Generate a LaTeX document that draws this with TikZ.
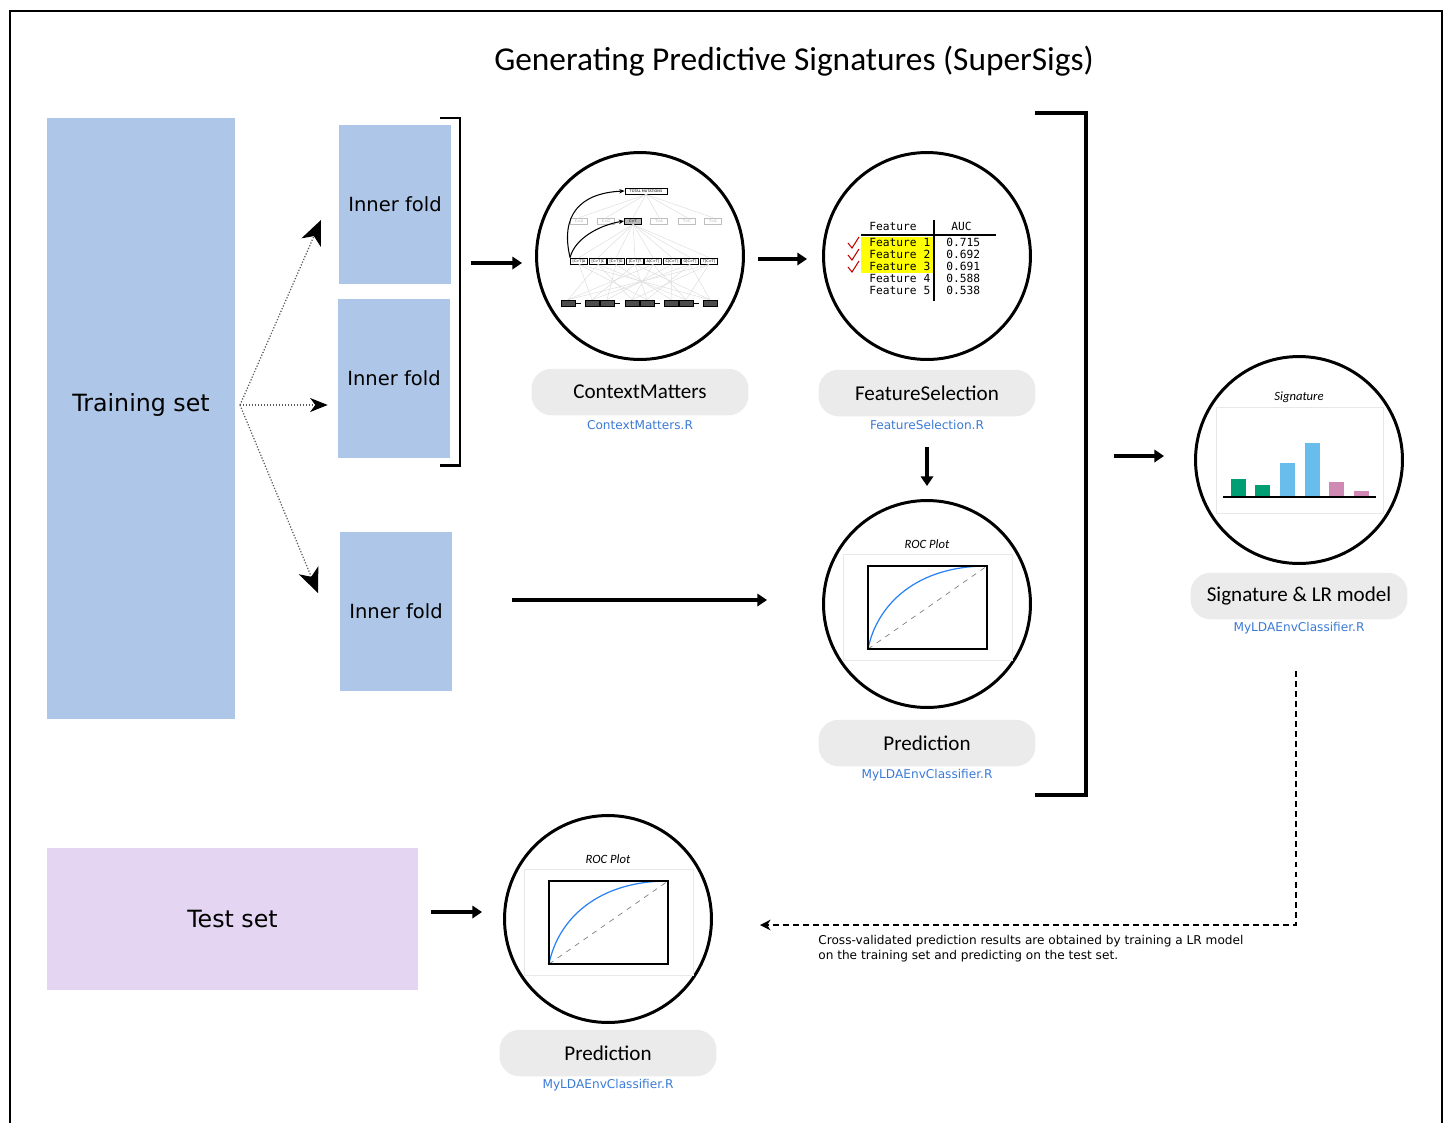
\documentclass[tikz,border=0pt]{standalone}
\usepackage{fontspec}
\setmainfont{DejaVu Sans}
\setmonofont{DejaVu Sans Mono}
\newfontfamily\calib{Carlito}
\usetikzlibrary{arrows.meta}

\definecolor{foldblue}{RGB}{174,199,232}
\definecolor{testlilac}{RGB}{228,214,242}
\definecolor{pillgray}{RGB}{235,235,235}
\definecolor{filelink}{RGB}{58,122,214}
\definecolor{hiyellow}{RGB}{255,255,0}
\definecolor{tickred}{RGB}{192,0,0}
\definecolor{rocblue}{RGB}{40,130,245}
\definecolor{framegray}{RGB}{232,232,232}
\definecolor{sigg}{RGB}{0,158,115}
\definecolor{sigb}{RGB}{104,189,236}
\definecolor{sigp}{RGB}{208,137,178}

\begin{document}
\begin{tikzpicture}[x=0.02cm,y=-0.02cm,
  setbox/.style={fill=#1,inner sep=0},
  circ/.style={circle,draw,line width=1.7pt,minimum size=4.14cm,inner sep=0},
  pill/.style={fill=pillgray,rounded corners=0.4cm,minimum width=4.34cm,
    minimum height=0.93cm,font=\calib\fontsize{12}{14}\selectfont},
  rfile/.style={text=filelink,font=\fontsize{6.9}{8}\selectfont,inner sep=0},
  bigarrow/.style={line width=2.2pt,-{Triangle[length=5.5pt,width=7pt]}},
  split/.style={gray!70!black,densely dotted,line width=0.7pt,
    -{Stealth[length=14pt,width=12pt,inset=4pt,color=black]}},
  cvarrow/.style={line width=0.65pt,dash pattern=on 3.4pt off 2.3pt,
    -{Stealth[length=6pt,width=6pt]}},
  smallbox/.style={draw,fill=white,inner sep=0,minimum height=0.12cm,
    minimum width=0.34cm,font=\fontsize{2}{2}\selectfont},
  netline/.style={gray!25,line width=0.3pt},
  tabtxt/.style={font=\ttfamily\fontsize{6.4}{7}\selectfont,inner sep=0,anchor=base west},
  plottitle/.style={font=\calib\itshape\fontsize{7.2}{8}\selectfont}]
  \useasboundingbox (0,0) rectangle (1447,1123);
  \draw[line width=0.85pt] (10,1123) -- (10,11) -- (1442,11) -- (1442,1123);

  \node[font=\calib\fontsize{19}{22}\selectfont] (title) at (794,61)
    {Generating Predictive Signatures (SuperSigs)};

  % sets and folds
  \node[setbox=foldblue,minimum width=3.76cm,minimum height=12.02cm] (train) at (141,418.5) {};
  \node[font=\fontsize{13.5}{16}\selectfont] (trainlbl) at (141,405) {Training set};
  \node[setbox=testlilac,minimum width=7.42cm,minimum height=2.84cm,
    font=\fontsize{13.5}{16}\selectfont] (test) at (232.5,919) {Test set};
  \node[setbox=foldblue,minimum width=2.24cm,minimum height=3.18cm,
    font=\fontsize{11.1}{13}\selectfont] (fold1) at (395,204.5) {Inner fold};
  \node[setbox=foldblue,minimum width=2.24cm,minimum height=3.18cm,
    font=\fontsize{11.1}{13}\selectfont] (fold2) at (394,378.5) {Inner fold};
  \node[setbox=foldblue,minimum width=2.24cm,minimum height=3.18cm,
    font=\fontsize{11.1}{13}\selectfont] (fold3) at (396,611.5) {Inner fold};
  \draw[line width=1.7pt] (440,118) -- (460,118) -- (460,465) -- (440,465);

  \coordinate (fork) at (240,405);
  \coordinate (tip1) at (321,220);
  \coordinate (tip3) at (318,593);
  \draw[split] (fork) -- (tip1);
  \draw[split,-{Stealth[length=10pt,width=8pt,inset=3pt,color=black]},shorten >=0.2cm]
    (fork) -- (fork -| fold2.west);
  \draw[split] (fork) -- (tip3);

  % circles
  \node[circ] (cm) at (640,256) {};
  \node[circ] (fs) at (927,256) {};
  \node[circ] (roc) at (927,604) {};
  \node[circ] (sig) at (1299,460) {};
  \node[circ] (roctest) at (608,919) {};

  \node[pill] (cmlab) at (640,392) {ContextMatters};
  \node[rfile] (cmfile) at (640,425) {ContextMatters.R};
  \node[pill] (fslab) at (927,393) {FeatureSelection};
  \node[rfile] (fsfile) at (927,425) {FeatureSelection.R};
  \node[pill] (roclab) at (927,743) {Prediction};
  \node[rfile] (rocfile) at (927,775) {MyLDAEnvClassifier.R};
  \node[pill] (siglab) at (1299,596) {Signature \& LR model};
  \node[rfile] (sigfile) at (1299,628) {MyLDAEnvClassifier.R};
  \node[pill] (testlab) at (608,1053) {Prediction};
  \node[rfile] (testfile) at (608,1085) {MyLDAEnvClassifier.R};

  % context network
  \node[smallbox,minimum width=0.84cm,line width=0.5pt] (tm) at (646,191) {TOTAL MUTATIONS};
  \foreach \x/\t [count=\i] in {579/C>A,606/C>G,633/C>T,659/T>A,687/T>C,713/T>G}
    \node[smallbox,draw=gray!50,text=gray!70,line width=0.4pt] (r2-\i) at (\x,221) {\t};
  \node[smallbox,fill=gray!55,line width=0.5pt] (r2-3) at (633,221) {C>T};
  \foreach \x/\t [count=\i] in {579/{[C>T]A},598/{[C>T]C},616/{[C>T]G},635/{[C>T]T},
      653/{A[C>T]},672/{C[C>T]},690/{G[C>T]},709/{T[C>T]}}
    \node[smallbox,line width=0.5pt] (r3-\i) at (\x,261) {\t};
  \foreach \x [count=\i] in {568,592,607,632,647,671,686,710}
    \node[smallbox,fill=gray!60!black,minimum width=0.28cm,line width=0.4pt] (r4-\i) at (\x,303) {};
  \foreach \x in {580,619,659,698}
    \draw[densely dashed,line width=0.3pt] (\x-4,303) -- (\x+4,303);
  \foreach \i in {1,...,6}
    \draw[netline] (tm.south) -- (r2-\i.north);
  \foreach \i in {1,...,8}
    \draw[netline] (r2-3.south) -- (r3-\i.north);
  \foreach \i in {1,...,8}{
    \foreach \j in {1,...,8}{
      \pgfmathtruncatemacro\k{mod(\i+\j,3)}
      \ifnum\k=0 \draw[netline] (r3-\i.south) -- (r4-\j.north); \fi
    }
  }
  \draw[line width=0.6pt,-{Stealth[length=3pt,width=2.5pt]}]
    (r3-1.north west) .. controls (560,215) and (580,193) .. (tm.west);
  \draw[line width=0.6pt,-{Stealth[length=3pt,width=2.5pt]}]
    (r3-1.north west) .. controls (575,238) and (600,225) .. (r2-3.west);

  % feature table
  \fill[hiyellow] (861,237) rectangle (933,273);
  \node[tabtxt] at (869,230) {Feature};
  \node[tabtxt] at (951,230) {AUC};
  \foreach \y/\v [count=\i] in {246/0.715,258/0.692,270/0.691,282/0.588,294/0.538}{
    \node[tabtxt] at (869,\y) {Feature \i};
    \node[tabtxt] at (946,\y) {\v};
  }
  \draw[line width=0.8pt] (934,220) -- (934,301);
  \draw[line width=0.8pt] (861,235) -- (996,235);
  \foreach \y in {243,255,267}
    \draw[tickred,line width=0.6pt] (848,\y) -- (852,\y+5) -- (859,\y-6);

  % roc plots
  \foreach \cx/\cy in {927/604,608/919}{
    \begin{scope}[shift={(\cx,\cy)}]
      \node[plottitle] at (0,-60) {ROC Plot};
      \draw[framegray,line width=0.5pt] (-84,-50) rectangle (85,56);
      \draw[gray,dashed,line width=0.4pt] (-59,45) -- (60,-38);
      \draw[rocblue,line width=0.7pt] (-59,45) .. controls (-50,0) and (-10,-38) .. (60,-38);
      \draw[line width=0.7pt] (-59,-38) rectangle (60,45);
    \end{scope}
  }

  % signature
  \begin{scope}[shift={(1299,460)}]
    \node[plottitle] at (0,-63) {Signature};
    \draw[framegray,line width=0.5pt] (-83,-53) rectangle (84,53);
    \fill[sigg] (-68,37) rectangle (-53,19);
    \fill[sigg] (-44,37) rectangle (-29,25);
    \fill[sigb] (-19,37) rectangle (-4,3);
    \fill[sigb] (6,37) rectangle (21,-17);
    \fill[sigp] (30,37) rectangle (45,22);
    \fill[sigp] (55,37) rectangle (70,31);
    \draw[line width=0.6pt] (-76,37) -- (77,37);
  \end{scope}

  % flow
  \draw[bigarrow,shorten <=0.4cm,shorten >=0.26cm]
    ([yshift=-0.14cm]fold1.east |- cm.west) -- ([yshift=-0.14cm]cm.west);
  \draw[bigarrow,shorten <=0.26cm,shorten >=0.3cm]
    ([yshift=-0.06cm]cm.east) -- ([yshift=-0.06cm]fs.west);
  \draw[bigarrow,shorten <=0.34cm,shorten >=0.26cm] (fsfile.south) -- (roc.north);
  \draw[bigarrow,shorten <=1.2cm,shorten >=1.1cm]
    ([yshift=0.08cm]fold3.east |- roc.west) -- ([yshift=0.08cm]roc.west);
  \draw[bigarrow,shorten <=0.26cm,shorten >=0.42cm]
    ([yshift=0.14cm]test.east) -- ([yshift=0.14cm]roctest.west);

  \draw[line width=2.3pt] (1035,113) -- (1086,113) -- (1086,795) -- (1035,795);
  \coordinate (brk) at (1086,456);
  \draw[bigarrow,shorten <=0.56cm,shorten >=0.6cm] (brk) -- (brk -| sig.west);

  \coordinate (cvend) at (760,925);
  \draw[cvarrow,shorten <=0.74cm] ([xshift=-0.06cm]sigfile.south) |- (cvend);
  \node[anchor=north west,inner sep=0,align=left,font=\fontsize{6.9}{8.5}\selectfont]
    (cvnote) at (818,935)
    {Cross-validated prediction results are obtained by training a LR model\\
     on the training set and predicting on the test set.};

\end{tikzpicture}
\end{document}
